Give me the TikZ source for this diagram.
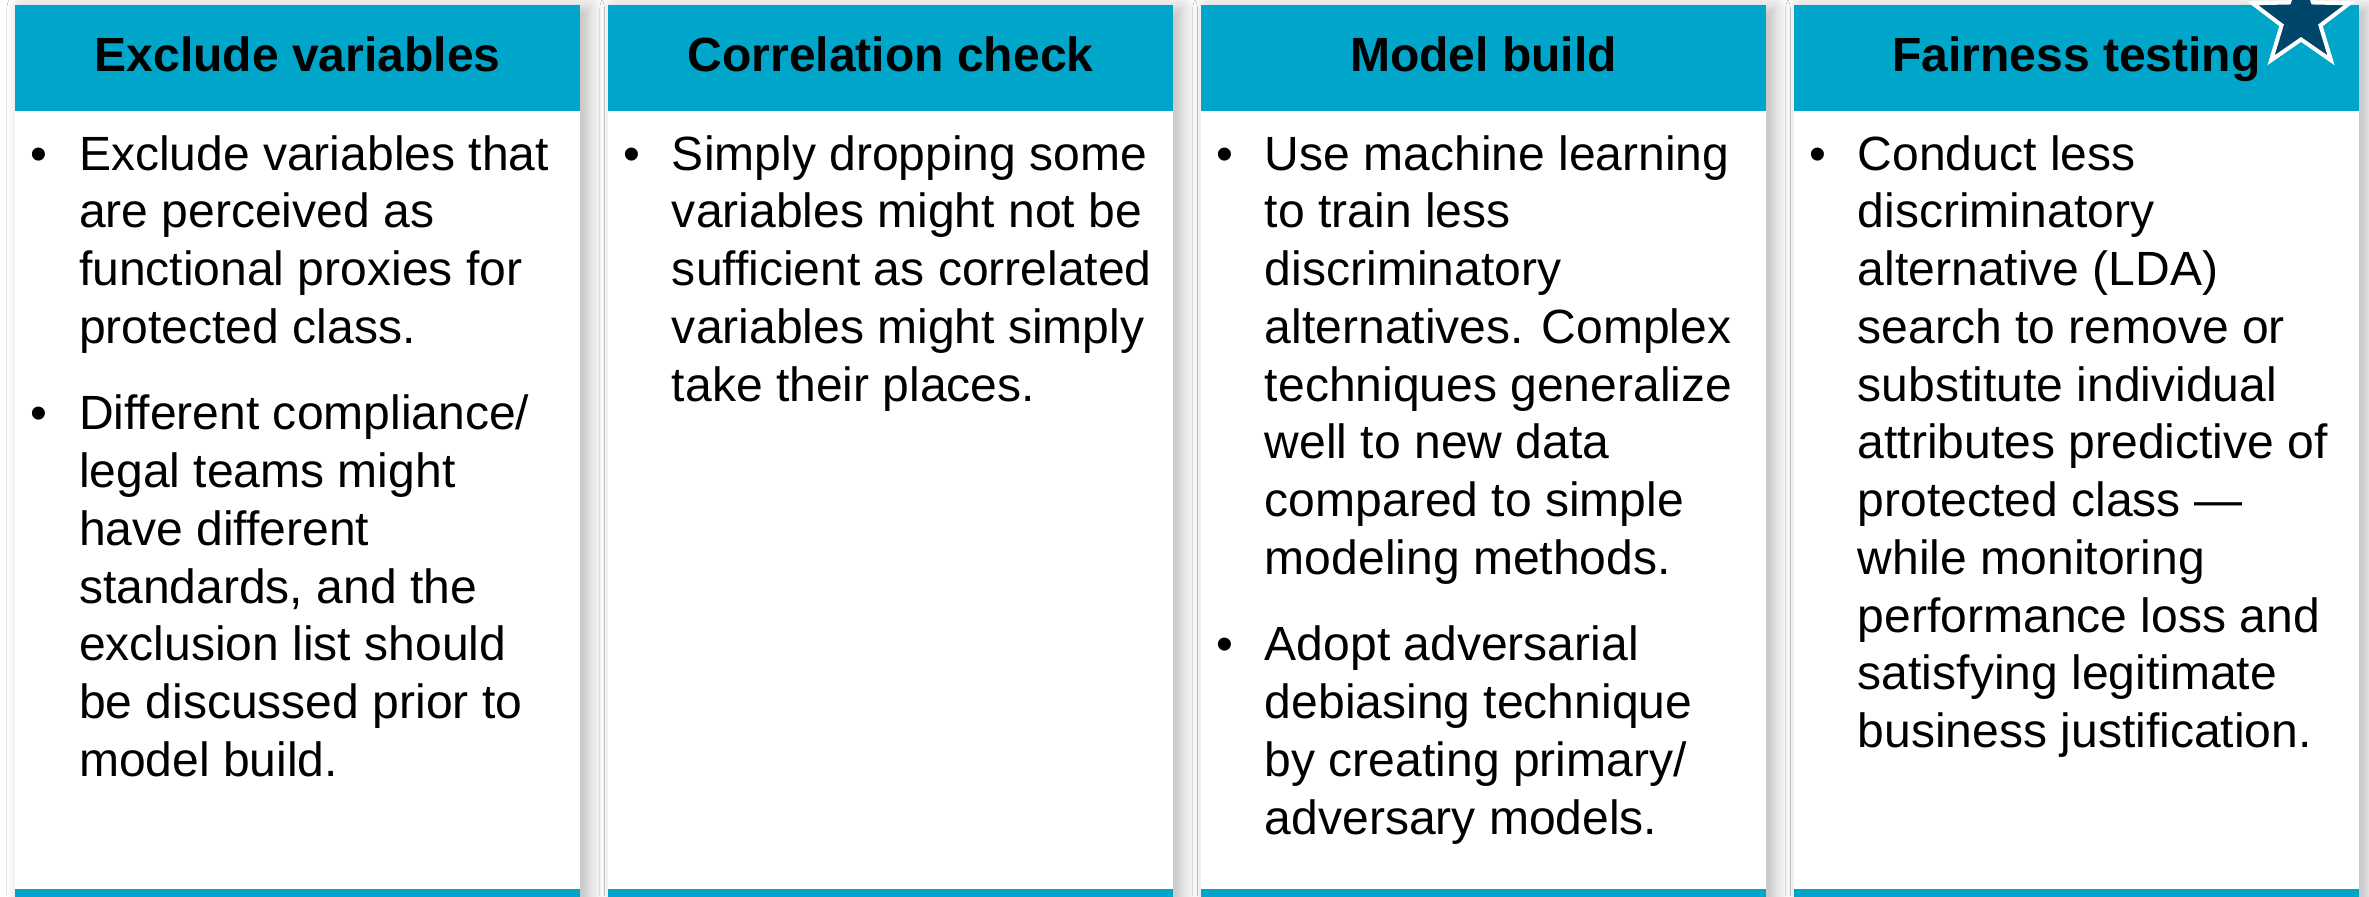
\documentclass[tikz,border=0pt]{standalone}
\usepackage{fontspec}
\setmainfont{Liberation Sans}
\usetikzlibrary{positioning,shapes.geometric,shadows.blur}
\definecolor{hdrteal}{HTML}{00A6CA}
\definecolor{starnavy}{HTML}{00456A}
\newcommand\itembul{\llap{\textbullet\hspace{3.16mm}}\strut}
\tikzset{
    %Define standard font
    font=\fontsize{13.66pt}{16.42pt}\selectfont,
    %Define style for the white cards
    card/.style={
           rectangle,
           fill=white,
           inner sep=0pt, outer sep=0pt,
           minimum width=5.65cm,
           minimum height=8.95cm,
           blur shadow={shadow xshift=0.08cm, shadow yshift=-0.03cm,
                        shadow blur radius=0.16cm, shadow opacity=28,
                        shadow blur steps=6}},
    % Define style for the header bars
    head bar/.style={
           rectangle,
           fill=hdrteal,
           inner sep=0pt, outer sep=0pt,
           minimum width=5.65cm,
           minimum height=1.06cm,
           text height=0.75em, text depth=0pt,
           font=\fontsize{13.66pt}{16.42pt}\selectfont\bfseries},
    foot bar/.style={rectangle,fill=hdrteal,inner sep=0pt,outer sep=0pt,minimum width=5.65cm,minimum height=0.12cm},
    % Define style for the bullet texts
    item text/.style={align=left,inner sep=0pt,outer sep=0pt,execute at end node=\strut},
    badge/.style={star,star points=5,star point ratio=2.5,minimum size=1.02cm,inner sep=0pt,
           fill=starnavy,draw=white,line width=0.04cm}
}

\begin{document}
\begin{tikzpicture}[x=0.01cm,y=-0.01cm]
  \useasboundingbox[fill=white] (0,0) rectangle (2369,896);
  % cards
  \node[card,anchor=north west] (c1) at (15,5) {};
  \node[card] (c2) [right=0.276cm of c1] {};
  \node[card] (c3) [right=0.276cm of c2] {};
  \node[card] (c4) [right=0.276cm of c3] {};
  \node[head bar,anchor=north] (h1) at (c1.north) {Exclude variables};
  \node[head bar,anchor=north] (h2) at (c2.north) {Correlation check};
  \node[head bar,anchor=north] (h3) at (c3.north) {Model build};
  \node[head bar,anchor=north] (h4) at (c4.north) {Fairness testing};
  \node[foot bar,anchor=south] (f1) at (c1.south) {};
  \node[foot bar,anchor=south] (f2) at (c2.south) {};
  \node[foot bar,anchor=south] (f3) at (c3.south) {};
  \node[foot bar,anchor=south] (f4) at (c4.south) {};
  % texts
  \node[item text] (t11) [below right=0.186cm and 0.64cm of h1.south west]
    {\itembul Exclude variables that\\are perceived as\\functional proxies for\\protected class.};
  \node[item text] (t12) [below right=0.288cm and 0cm of t11.south west]
    {\itembul Different compliance/\\legal teams might\\have different\\standards, and the\\exclusion list should\\be discussed prior to\\model build.};
  \node[item text] (t21) [below right=0.186cm and 0.64cm of h2.south west]
    {\itembul Simply dropping some\\variables might not be\\sufficient as correlated\\variables might simply\\take their places.};
  \node[item text] (t31) [below right=0.186cm and 0.64cm of h3.south west]
    {\itembul Use machine learning\\to train less\\discriminatory\\alternatives. Complex\\techniques generalize\\well to new data\\compared to simple\\modeling methods.};
  \node[item text] (t32) [below right=0.288cm and 0cm of t31.south west]
    {\itembul Adopt adversarial\\debiasing technique\\by creating primary/\\adversary models.};
  \node[item text] (t41) [below right=0.186cm and 0.64cm of h4.south west]
    {\itembul Conduct less\\discriminatory\\alternative (LDA)\\search to remove or\\substitute individual\\attributes predictive of\\protected class —\\while monitoring\\performance loss and\\satisfying legitimate\\business justification.};
  % star
  \node[badge] (st) at (2301,19) {};
\end{tikzpicture}
\end{document}
